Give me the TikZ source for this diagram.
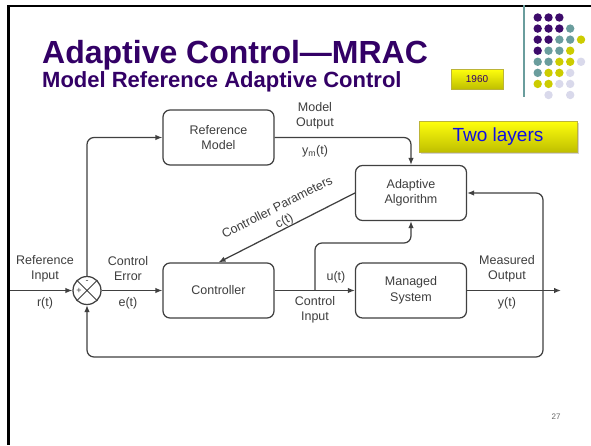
\documentclass[tikz,border=0pt]{standalone}
\usepackage{fontspec}
\setmainfont{Liberation Sans}
\usetikzlibrary{arrows.meta,shadows}
\definecolor{ttl}{HTML}{330066}
\definecolor{lc}{HTML}{404040}
\definecolor{tc}{HTML}{3E3E3E}
\definecolor{dpurple}{HTML}{3D0B6B}
\definecolor{dteal}{HTML}{6A9D9D}
\definecolor{dyellow}{HTML}{CCCC00}
\definecolor{dlav}{HTML}{D9D9EB}
\definecolor{tblue}{HTML}{1010E0}
\begin{document}
\begin{tikzpicture}[x=1pt,y=-1pt,
  blk/.style={draw=lc,line width=1.25pt,rounded corners=7pt,minimum width=111pt,minimum height=55pt,align=center,text=tc,font=\fontsize{12.5}{15.5}\selectfont},
  lbl/.style={text=tc,align=center,font=\fontsize{12.5}{15}\selectfont,inner sep=0pt},
  arr/.style={draw=lc,line width=1.25pt,-{Latex[length=7pt,width=5.5pt]}},
  conn/.style={draw=lc,line width=1.25pt},
  yelbox/.style={top color=yellow!95!white,bottom color=yellow!75!black,draw=yellow!70!black,line width=0.4pt}]
\useasboundingbox (0,0) rectangle (591,445);
\fill[white] (0,0) rectangle (591,445);
% slide frame
\draw[black,line width=2.6pt] (591,6) -- (8.3,6) -- (8.3,445);
% title
\node[anchor=base west,inner sep=0pt,text=ttl,font=\fontsize{32}{36}\bfseries\selectfont] (title) at (42,63) {Adaptive Control—MRAC};
\node[anchor=base west,inner sep=0pt,text=ttl,font=\fontsize{22}{26}\bfseries\selectfont] (sub) at (42,87) {Model Reference Adaptive Control};
\node[yelbox,minimum width=52pt,minimum height=20pt,inner sep=0pt,text=ttl,font=\fontsize{10}{12}\selectfont] (yr) at (477,79) {1960};
% decoration
\draw[dteal,line width=1.2pt] (524,5) -- (524,97);
\foreach \r/\c/\col in {1/1/dpurple,1/2/dpurple,1/3/dpurple,
  2/1/dpurple,2/2/dpurple,2/3/dpurple,2/4/dteal,
  3/1/dpurple,3/2/dpurple,3/3/dteal,3/4/dteal,3/5/dyellow,
  4/1/dpurple,4/2/dteal,4/3/dteal,4/4/dyellow,
  5/1/dteal,5/2/dteal,5/3/dyellow,5/4/dyellow,5/5/dlav,
  6/1/dteal,6/2/dyellow,6/3/dyellow,6/4/dlav,
  7/1/dyellow,7/2/dyellow,7/3/dlav,7/4/dlav,
  8/2/dlav,8/4/dlav}
  \fill[\col] ({537.7+(\c-1)*10.83},{17.5+(\r-1)*11.07}) circle (4.2);
% two layers
\node[yelbox,drop shadow={shadow xshift=1.5pt,shadow yshift=-1.5pt,opacity=0.35},minimum width=158pt,minimum height=31pt,inner sep=0pt,text=tblue,font=\fontsize{19}{22}\selectfont] (two) at (498,136.5) {Two layers};
% blocks
\node[blk] (ref) at (218.5,137.5) {Reference\\Model};
\node[blk] (ctrl) at (218.5,290.5) {Controller};
\node[blk] (adapt) at (411,193) {Adaptive\\Algorithm};
\node[blk] (sys) at (411,290.5) {Managed\\System};
\node[circle,draw=lc,line width=1.25pt,minimum size=28pt,inner sep=0pt] (sum) at (87,290.5) {};
\draw[conn,line width=1pt] (sum.north east) -- (sum.south west) (sum.north west) -- (sum.south east);
\node[lbl,font=\fontsize{9}{9}\selectfont] (plus) at ([xshift=-8pt]sum.center) {+};
\node[lbl,font=\fontsize{9}{9}\selectfont] (minus) at ([yshift=8pt]sum.center) {-};
% coordinates
\coordinate (in) at (10,290.5);
\coordinate (out) at (561,290.5);
\coordinate (br) at (315,290.5);
\coordinate (bk) at (315,243);
\coordinate (fbr) at (543,357);
% connectors
\draw[arr] (in) -- (sum.west);
\draw[arr] (sum.east) -- (ctrl.west);
\draw[arr,rounded corners=7pt] (sum.north) |- (ref.west);
\draw[arr,rounded corners=7pt] (ref.east) -| (adapt.north);
\draw[arr] (ctrl.east) -- (sys.west);
\draw[arr,rounded corners=7pt] (br) -- (bk) -| (adapt.south);
\draw[arr] (sys.east) -- (out);
\draw[draw=lc,line width=1.25pt,{Latex[length=7pt,width=5.5pt]}-{Latex[length=7pt,width=5.5pt]},rounded corners=7pt] (adapt.east) -| (fbr) -| (sum.south);
\draw[arr] (adapt.west) -- (ctrl.north);
% labels
\node[lbl,rotate=27] (cp) at (277,207) {Controller Parameters};
\node[lbl,rotate=27] (ct) at (284.5,221.5) {c(t)};
\node[lbl] (rin) at (45,268.5) {Reference\\Input};
\node[lbl] (rt) at (45,303) {r(t)};
\node[lbl] (cerr) at (128,268.5) {Control\\Error};
\node[lbl] (et) at (128,303) {e(t)};
\node[lbl] (mo) at (315,115.5) {Model\\Output};
\node[lbl] (ymt) at (315,151) {y\textsubscript{m}(t)};
\node[lbl] (ut) at (336,277.5) {u(t)};
\node[lbl] (cin) at (315,310) {Control\\Input};
\node[lbl] (mout) at (507,269) {Measured\\Output};
\node[lbl] (yt) at (507,303) {y(t)};
\node[text=gray!80!black,font=\fontsize{8}{9}\selectfont,inner sep=0pt] (pg) at (556,417) {27};
\end{tikzpicture}
\end{document}
